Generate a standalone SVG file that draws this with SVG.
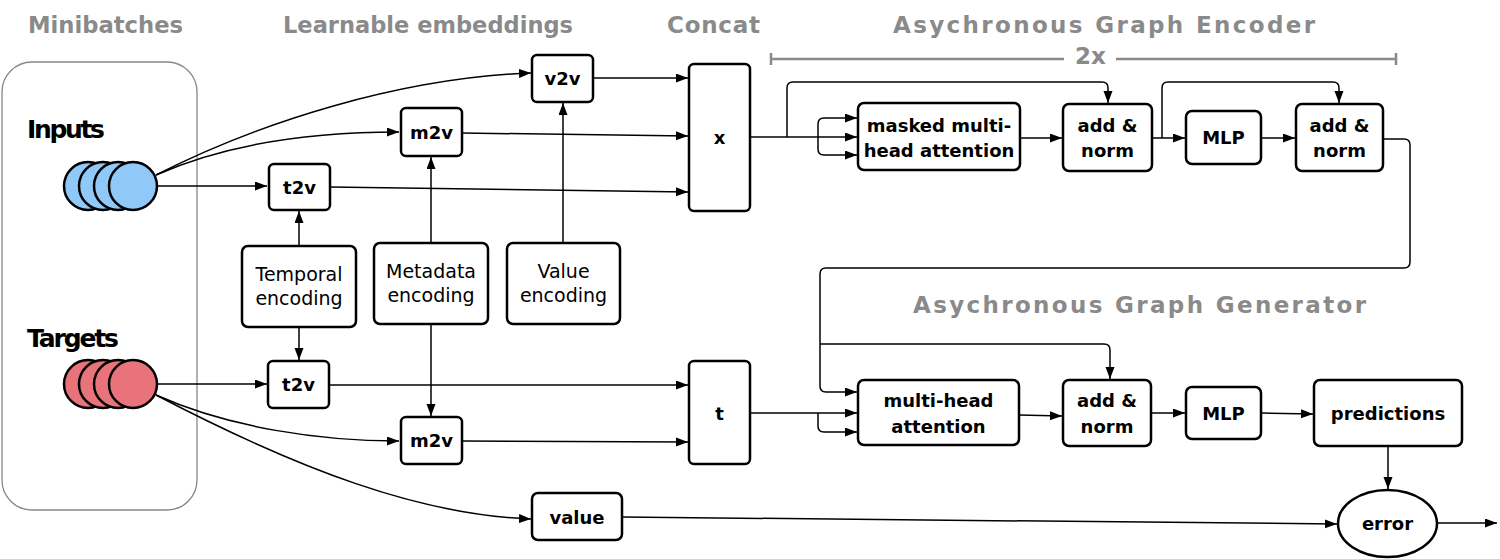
<svg xmlns="http://www.w3.org/2000/svg" width="1500" height="559" viewBox="0 0 1500 559">
<defs>
<style>
.hdr{font-family:"DejaVu Sans",sans-serif;font-weight:bold;font-size:23px;fill:#8a8a8a}
.box{fill:#fff;stroke:#000;stroke-width:2.5}
.lbl{font-family:"DejaVu Sans",sans-serif;font-weight:bold;font-size:18px;fill:#000;text-anchor:middle}
.enc{font-family:"DejaVu Sans",sans-serif;font-size:19px;fill:#000;text-anchor:middle}
.big{font-family:"DejaVu Sans",sans-serif;font-weight:bold;font-size:25px;fill:#000}
.conn path{fill:none;stroke:#000;stroke-width:1.5}
.arr{marker-end:url(#ah)}
.gray{fill:none;stroke:#8a8a8a;stroke-width:2.5}
.cb{fill:#90c8f8;stroke:#000;stroke-width:2.5}
.cr{fill:#e8737a;stroke:#000;stroke-width:2.5}
</style>
<marker id="ah" markerUnits="userSpaceOnUse" markerWidth="13" markerHeight="10" refX="12" refY="4.5" orient="auto">
<path d="M0,0 L12,4.5 L0,9 z" fill="#000"/>
</marker>
</defs>
<rect width="1500" height="559" fill="#fff"/>

<!-- headers -->
<g id="headers">
<text class="hdr" x="28" y="33" textLength="155" lengthAdjust="spacingAndGlyphs">Minibatches</text>
<text class="hdr" x="283" y="33" textLength="290" lengthAdjust="spacingAndGlyphs">Learnable embeddings</text>
<text class="hdr" x="667" y="33" textLength="93" lengthAdjust="spacing">Concat</text>
<text class="hdr" x="893" y="33" textLength="422" lengthAdjust="spacing">Asychronous Graph Encoder</text>
<text class="hdr" x="913" y="313" textLength="453" lengthAdjust="spacing">Asychronous Graph Generator</text>
<text class="hdr" x="1075" y="64">2x</text>
<path class="gray" d="M771,59 H1064 M1116,59 H1396 M771,53 V65 M1396,53 V65"/>
</g>

<!-- minibatches container -->
<g id="minibatches">
<rect x="2" y="62" width="195" height="448" rx="30" fill="none" stroke="#888" stroke-width="1.3"/>
<text class="big" x="27" y="138" textLength="78" lengthAdjust="spacing">Inputs</text>
<text class="big" x="27" y="347" textLength="92" lengthAdjust="spacing">Targets</text>
</g>

<g id="inputs">
<circle class="cb" cx="88" cy="186" r="24"/>
<circle class="cb" cx="103" cy="186" r="24"/>
<circle class="cb" cx="118" cy="186" r="24"/>
<circle class="cb" cx="133" cy="186" r="24"/>
</g>
<g id="targets">
<circle class="cr" cx="88" cy="384" r="24"/>
<circle class="cr" cx="103" cy="384" r="24"/>
<circle class="cr" cx="118" cy="384" r="24"/>
<circle class="cr" cx="133" cy="384" r="24"/>
</g>

<!-- connectors -->
<g id="connectors" class="conn">
<path class="arr" d="M156,175 C260,122 400,78 531,73"/>
<path class="arr" d="M156,175 C230,142 320,132 399,132"/>
<path class="arr" d="M157,186 H267"/>
<path class="arr" d="M330,187 L688,192"/>
<path class="arr" d="M462,133 L688,136"/>
<path class="arr" d="M593,78 L688,78"/>
<path class="arr" d="M299,246 V211"/>
<path class="arr" d="M431,243 V157"/>
<path class="arr" d="M563,243 V103"/>
<path class="arr" d="M299,327 V360"/>
<path class="arr" d="M431,324 V416"/>
<path class="arr" d="M157,384 H267"/>
<path class="arr" d="M156,395 C230,428 320,441 399,441"/>
<path class="arr" d="M156,395 C300,470 420,515 531,519"/>
<path class="arr" d="M329,385 L688,385"/>
<path class="arr" d="M462,441 L688,442"/>
<path class="arr" d="M622,517 L1337,524"/>
<!-- encoder -->
<path class="arr" d="M750,137 H857"/>
<path class="arr" d="M818,137 V124 Q818,118 824,118 H857"/>
<path class="arr" d="M818,137 V149 Q818,155 824,155 H857"/>
<path class="arr" d="M787,137 V88 Q787,82 793,82 H1102 Q1108,82 1108,88 V103"/>
<path class="arr" d="M1020,138 H1062"/>
<path class="arr" d="M1152,138 H1185"/>
<path class="arr" d="M1162,138 V88 Q1162,82 1168,82 H1333 Q1339,82 1339,88 V103"/>
<path class="arr" d="M1261,138 H1295"/>
<!-- encoder to generator -->
<path class="arr" d="M1383,139 H1404 Q1410,139 1410,145 V262 Q1410,268 1404,268 H826 Q820,268 820,274 V386 Q820,392 826,392 H857"/>
<path class="arr" d="M820,344 H1104 Q1110,344 1110,350 V379"/>
<!-- generator -->
<path class="arr" d="M750,413 H857"/>
<path class="arr" d="M818,413 V426 Q818,432 824,432 H857"/>
<path class="arr" d="M1019,415 L1062,416"/>
<path class="arr" d="M1151,413 H1185"/>
<path class="arr" d="M1261,413 L1313,414"/>
<path class="arr" d="M1388,446 V489"/>
<path class="arr" d="M1437,523 H1497"/>
</g>

<!-- nodes -->
<g id="t2v_in"><rect class="box" x="269" y="164" width="61" height="46" rx="5"/><text class="lbl" x="299.5" y="194">t2v</text></g>
<g id="m2v_in"><rect class="box" x="401" y="108" width="61" height="48" rx="5"/><text class="lbl" x="431.5" y="139">m2v</text></g>
<g id="v2v"><rect class="box" x="532" y="55" width="61" height="47" rx="5"/><text class="lbl" x="562.5" y="85">v2v</text></g>
<g id="x"><rect class="box" x="689" y="64" width="61" height="147" rx="5"/><text class="lbl" x="719.5" y="144">x</text></g>
<g id="temporal_enc"><rect class="box" x="242" y="246" width="114" height="81" rx="6"/><text class="enc" x="299" y="281">Temporal</text><text class="enc" x="299" y="305">encoding</text></g>
<g id="metadata_enc"><rect class="box" x="374" y="243" width="114" height="81" rx="6"/><text class="enc" x="431" y="278" textLength="90" lengthAdjust="spacing">Metadata</text><text class="enc" x="431" y="302">encoding</text></g>
<g id="value_enc"><rect class="box" x="507" y="243" width="113" height="81" rx="6"/><text class="enc" x="563.5" y="278">Value</text><text class="enc" x="563.5" y="302">encoding</text></g>
<g id="t2v_tgt"><rect class="box" x="268" y="361" width="61" height="47" rx="5"/><text class="lbl" x="298.5" y="391">t2v</text></g>
<g id="m2v_tgt"><rect class="box" x="401" y="417" width="61" height="47" rx="5"/><text class="lbl" x="431.5" y="447">m2v</text></g>
<g id="t"><rect class="box" x="689" y="361" width="61" height="103" rx="5"/><text class="lbl" x="719.5" y="420">t</text></g>
<g id="value"><rect class="box" x="532" y="493" width="90" height="47" rx="6"/><text class="lbl" x="577" y="524">value</text></g>

<g id="masked_attention"><rect class="box" x="858" y="103" width="162" height="67" rx="6"/><text class="lbl" x="939" y="132">masked multi-</text><text class="lbl" x="939" y="157">head attention</text></g>
<g id="enc_addnorm1"><rect class="box" x="1063" y="104" width="89" height="67" rx="6"/><text class="lbl" x="1107.5" y="132">add &amp;</text><text class="lbl" x="1107.5" y="157">norm</text></g>
<g id="enc_mlp"><rect class="box" x="1186" y="111" width="75" height="53" rx="6"/><text class="lbl" x="1223.5" y="144">MLP</text></g>
<g id="enc_addnorm2"><rect class="box" x="1296" y="104" width="87" height="67" rx="6"/><text class="lbl" x="1339.5" y="132">add &amp;</text><text class="lbl" x="1339.5" y="157">norm</text></g>

<g id="mh_attention"><rect class="box" x="858" y="380" width="161" height="65" rx="6"/><text class="lbl" x="938.5" y="407">multi-head</text><text class="lbl" x="938.5" y="433">attention</text></g>
<g id="gen_addnorm"><rect class="box" x="1063" y="380" width="88" height="66" rx="6"/><text class="lbl" x="1107" y="407">add &amp;</text><text class="lbl" x="1107" y="433">norm</text></g>
<g id="gen_mlp"><rect class="box" x="1186" y="387" width="75" height="52" rx="6"/><text class="lbl" x="1223.5" y="420">MLP</text></g>
<g id="predictions"><rect class="box" x="1314" y="380" width="148" height="66" rx="6"/><text class="lbl" x="1388" y="420">predictions</text></g>
<g id="error"><ellipse class="box" cx="1387.5" cy="523.5" rx="49.5" ry="33.5"/><text class="lbl" x="1387.5" y="530">error</text></g>
</svg>
